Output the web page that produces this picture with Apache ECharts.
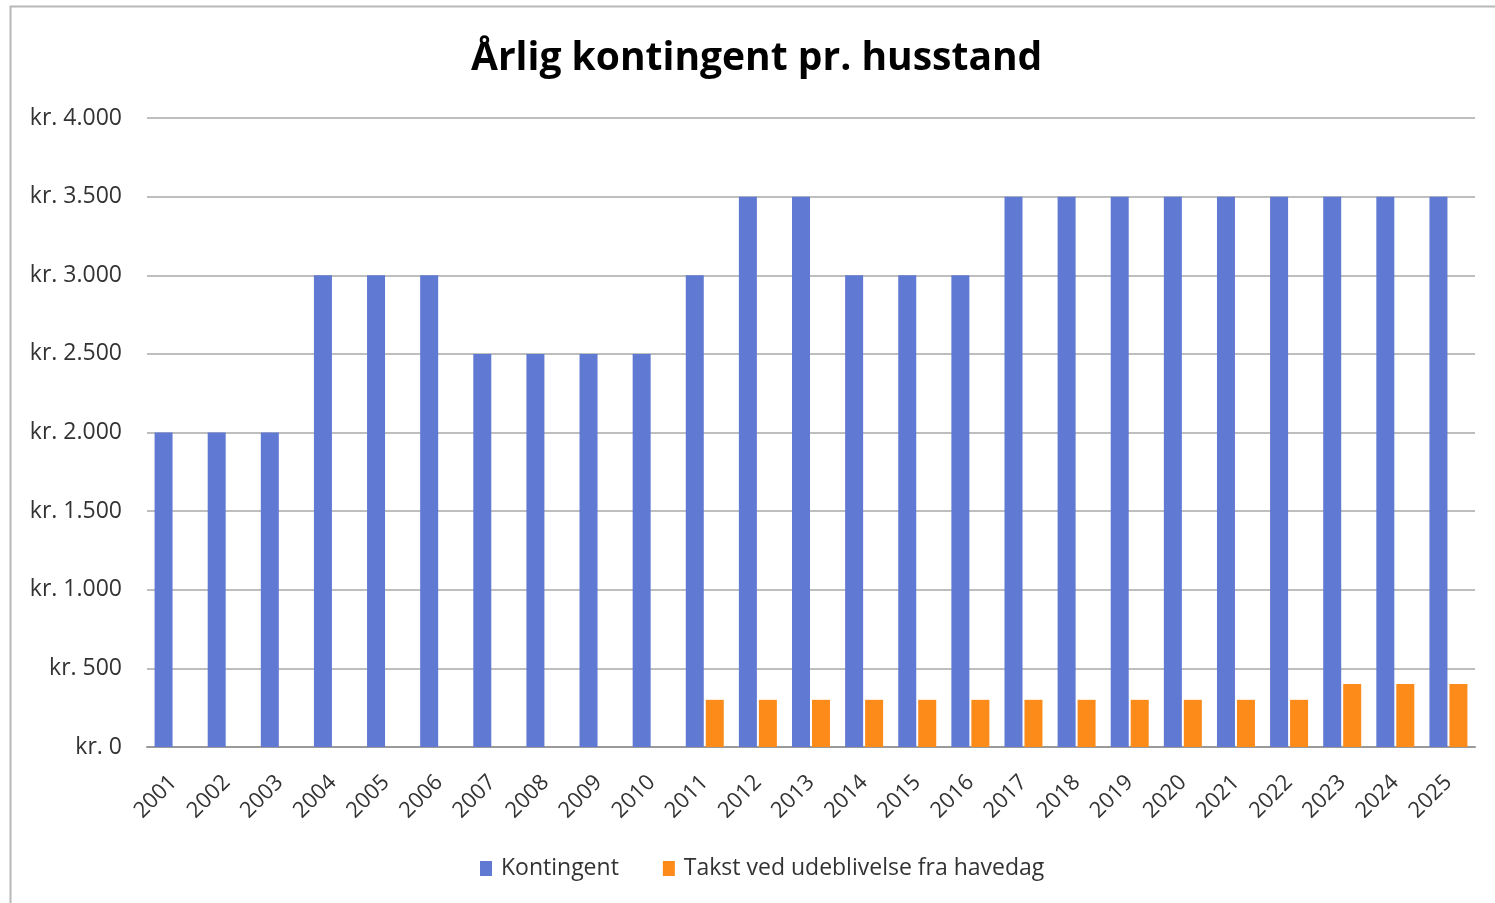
<!DOCTYPE html>
<html>
<head>
<meta charset="utf-8">
<script src="https://cdn.jsdelivr.net/npm/echarts@6/dist/echarts.min.js"></script>
<style>
html,body{margin:0;padding:0;background:#fff;}
#chart{width:1495px;height:903px;}
</style>
</head>
<body>
<div id="chart"></div>
<script>
const years = ['2001','2002','2003','2004','2005','2006','2007','2008','2009','2010','2011','2012','2013','2014','2015','2016','2017','2018','2019','2020','2021','2022','2023','2024','2025'];
const kontingent = [2000,2000,2000,3000,3000,3000,2500,2500,2500,2500,3000,3500,3500,3000,3000,3000,3500,3500,3500,3500,3500,3500,3500,3500,3500];
const takst = [null,null,null,null,null,null,null,null,null,null,300,300,300,300,300,300,300,300,300,300,300,300,400,400,400];
const seriesNames = ['Kontingent','Takst ved udeblivelse fra havedag'];
const titleText = 'Årlig kontingent pr. husstand';

const font = '"Open Sans", "Noto Sans", sans-serif';
const chart = echarts.init(document.getElementById('chart'));
function fmt(v){
  return 'kr. ' + String(v).replace(/\B(?=(\d{3})+(?!\d))/g, '.');
}
chart.setOption({
  animation:false,
  backgroundColor:'#fff',
  graphic:[{type:'rect',shape:{x:10.5,y:6.5,width:1500,height:910},style:{fill:null,stroke:'#b8b8b8',lineWidth:2},silent:true}],
  title:{text:titleText,left:466,top:34,textStyle:{fontFamily:font,fontWeight:'bold',fontSize:39,color:'#000'}},
  grid:{left:147,right:20,top:118,bottom:156,containLabel:false},
  legend:{bottom:18,left:475,itemWidth:12,itemHeight:15,itemGap:44,icon:'rect',
    textStyle:{fontFamily:font,fontSize:23,color:'#333',padding:[0,0,0,4]},data:seriesNames},
  xAxis:{type:'category',data:years,
    axisLine:{lineStyle:{color:'#9a9a9a',width:2}},axisTick:{show:false},
    axisLabel:{rotate:45,fontFamily:font,fontSize:22,color:'#333',margin:32,interval:0}},
  yAxis:{type:'value',min:0,max:4000,interval:500,
    axisLine:{show:false},axisTick:{show:false},
    splitLine:{lineStyle:{color:'#a8a8a8',width:1.5}},
    axisLabel:{formatter:fmt,fontFamily:font,fontSize:23,color:'#333',margin:25}},
  series:[
    {name:seriesNames[0],type:'bar',data:kontingent,barWidth:18,barGap:'11%',itemStyle:{color:'#6079d3'}},
    {name:seriesNames[1],type:'bar',data:takst,barWidth:18,itemStyle:{color:'#fd8b19'}}
  ]
});
</script>
</body>
</html>
